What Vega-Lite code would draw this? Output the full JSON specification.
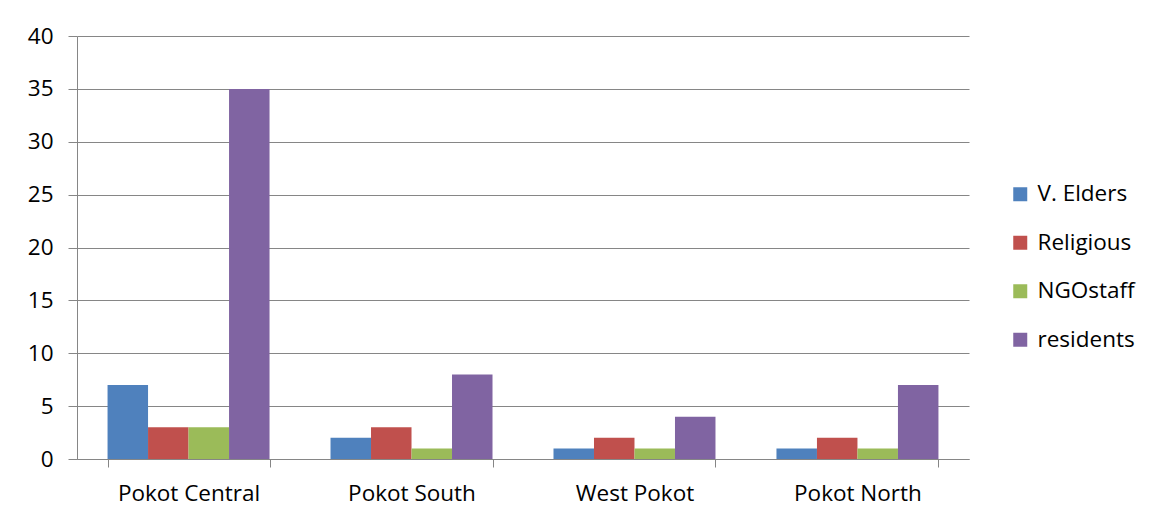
{
  "$schema": "https://vega.github.io/schema/vega-lite/v6.json",
  "autosize": {"type": "none"},
  "width": 892,
  "height": 423,
  "padding": {"left": 77, "top": 36, "right": 189, "bottom": 64},
  "background": "white",
  "data": {
    "values": [
      {"region": "Pokot Central", "group": "V. Elders", "value": 7},
      {"region": "Pokot Central", "group": "Religious", "value": 3},
      {"region": "Pokot Central", "group": "NGOstaff", "value": 3},
      {"region": "Pokot Central", "group": "residents", "value": 35},
      {"region": "Pokot South", "group": "V. Elders", "value": 2},
      {"region": "Pokot South", "group": "Religious", "value": 3},
      {"region": "Pokot South", "group": "NGOstaff", "value": 1},
      {"region": "Pokot South", "group": "residents", "value": 8},
      {"region": "West Pokot", "group": "V. Elders", "value": 1},
      {"region": "West Pokot", "group": "Religious", "value": 2},
      {"region": "West Pokot", "group": "NGOstaff", "value": 1},
      {"region": "West Pokot", "group": "residents", "value": 4},
      {"region": "Pokot North", "group": "V. Elders", "value": 1},
      {"region": "Pokot North", "group": "Religious", "value": 2},
      {"region": "Pokot North", "group": "NGOstaff", "value": 1},
      {"region": "Pokot North", "group": "residents", "value": 7}
    ]
  },
  "mark": {"type": "bar"},
  "encoding": {
    "x": {
      "field": "region",
      "type": "nominal",
      "sort": ["Pokot Central", "Pokot South", "West Pokot", "Pokot North"],
      "scale": {"paddingInner": 0.2735, "paddingOuter": 0.137},
      "axis": {
        "title": null,
        "labelAngle": 0,
        "grid": false,
        "tickBand": "extent",
        "tickSize": 8,
        "tickColor": "#868686",
        "domainColor": "#868686",
        "labelPadding": 15,
        "labelFontSize": 22.5,
        "labelFont": "Open Sans",
        "labelColor": "#000000"
      }
    },
    "xOffset": {
      "field": "group",
      "type": "nominal",
      "sort": ["V. Elders", "Religious", "NGOstaff", "residents"],
      "scale": {"paddingInner": 0, "paddingOuter": 0}
    },
    "y": {
      "field": "value",
      "type": "quantitative",
      "scale": {"domain": [0, 40]},
      "axis": {
        "title": null,
        "values": [0, 5, 10, 15, 20, 25, 30, 35, 40],
        "grid": true,
        "gridColor": "#868686",
        "tickColor": "#868686",
        "domainColor": "#868686",
        "tickSize": 9,
        "labelPadding": 15,
        "labelFontSize": 22.5,
        "labelFont": "Open Sans",
        "labelColor": "#000000"
      }
    },
    "color": {
      "field": "group",
      "type": "nominal",
      "sort": ["V. Elders", "Religious", "NGOstaff", "residents"],
      "scale": {
        "domain": ["V. Elders", "Religious", "NGOstaff", "residents"],
        "range": ["#4F81BD", "#C0504D", "#9BBB59", "#8064A2"]
      },
      "legend": {
        "title": null,
        "orient": "none",
        "legendX": 932,
        "legendY": 147,
        "padding": 0,
        "symbolType": "square",
        "symbolSize": 196,
        "symbolStrokeWidth": 0,
        "symbolOpacity": 1,
        "labelFontSize": 22.5,
        "labelFont": "Open Sans",
        "labelColor": "#000000",
        "labelOffset": 6,
        "rowPadding": 25.5
      }
    }
  },
  "config": {"view": {"stroke": null}}
}
